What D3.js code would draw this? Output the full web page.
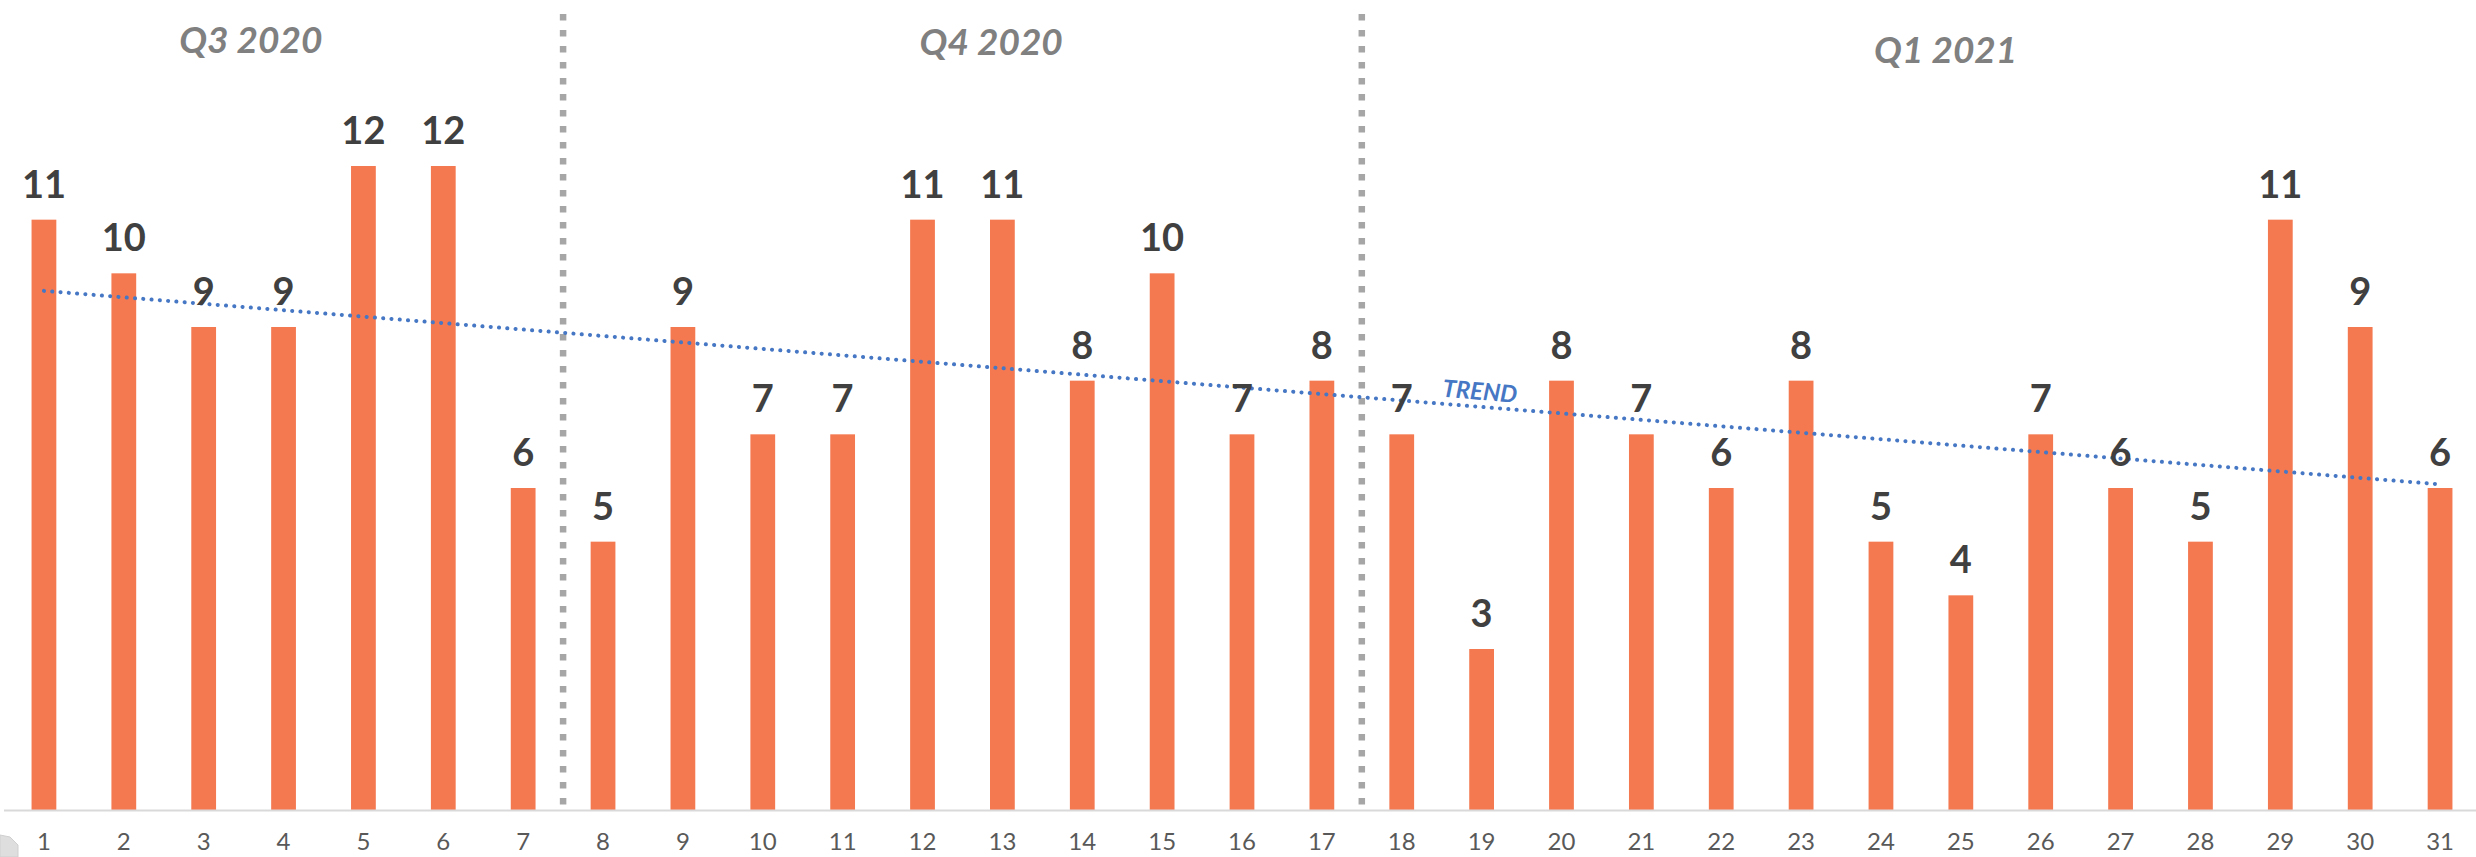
<!DOCTYPE html>
<html>
<head>
<meta charset="utf-8">
<script src="https://cdn.jsdelivr.net/npm/d3@7"></script>
<style>
  html, body { margin: 0; padding: 0; background: #ffffff; }
  svg { display: block; }
</style>
</head>
<body>
<svg id="chart" width="2476" height="857"></svg>
<script>
// ---- data ----
const days = ["1","2","3","4","5","6","7","8","9","10","11","12","13","14","15","16",
              "17","18","19","20","21","22","23","24","25","26","27","28","29","30","31"];
const counts = [11,10,9,9,12,12,6,5,9,7,7,11,11,8,10,7,8,7,3,8,7,6,8,5,4,7,6,5,11,9,6];
const quarterLabels = ["Q3 2020", "Q4 2020", "Q1 2021"];
const quarterBreaks = ["7", "17"];        // separator drawn after these days
const quarterLabelDay = [3.59, 12.86, 24.81]; // label centre, in day units
const trendLabel = "TREND";

// ---- layout ----
const W = 2476, H = 857;
const svg = d3.select("#chart");
svg.append("rect").attr("width", W).attr("height", H).attr("fill", "#ffffff");

const x = d3.scaleBand().domain(days).range([4, 2480]).paddingInner(0.69).paddingOuter(0.345);
const y = d3.scaleLinear().domain([0, 15]).range([810, 5]);
const dayPos = d3.scaleLinear().domain([1, days.length])
  .range([x(days[0]) + x.bandwidth() / 2, x(days[days.length - 1]) + x.bandwidth() / 2]);

// bars
svg.append("g").selectAll("rect").data(counts).join("rect")
  .attr("x", (d, i) => x(days[i]))
  .attr("y", d => y(d))
  .attr("width", x.bandwidth())
  .attr("height", d => y(0) - y(d))
  .attr("fill", "#F47850");

// x axis
const xAxis = d3.axisBottom(x).tickSize(0).tickPadding(0);
const gx = svg.append("g").attr("transform", `translate(0,${y(0)})`).call(xAxis);
gx.select(".domain").attr("stroke", "#d9d9d9").attr("stroke-width", 2)
  .attr("d", `M4,0.5H${W}`);
gx.selectAll("text")
  .attr("y", 40).attr("dy", 0)
  .attr("font-family", "Lato, 'Open Sans', sans-serif")
  .attr("font-size", 24)
  .attr("fill", "#595959");

// quarter separators
const sepX = d => (x(d) + x.bandwidth() / 2) + x.step() / 2;
svg.append("g").selectAll("line").data(quarterBreaks).join("line")
  .attr("x1", sepX).attr("x2", sepX)
  .attr("y1", 14).attr("y2", 806)
  .attr("stroke", "#a6a6a6")
  .attr("stroke-width", 6.5)
  .attr("stroke-dasharray", "6.5 9.5");

// quarter labels
const qBase = [53, 55, 63];
svg.append("g").selectAll("text").data(quarterLabels).join("text")
  .attr("x", (d, i) => dayPos(quarterLabelDay[i]))
  .attr("y", (d, i) => qBase[i])
  .attr("text-anchor", "middle")
  .attr("font-family", "Lato, 'Open Sans', sans-serif")
  .attr("font-weight", 700)
  .attr("font-style", "italic")
  .attr("font-size", 37)
  .attr("fill", "#808080")
  .text(d => d);

// trend line (least squares on counts)
const n = counts.length;
const xs = counts.map((d, i) => i + 1);
const mx = d3.mean(xs), my = d3.mean(counts);
const slope = d3.sum(xs, (v, i) => (v - mx) * (counts[i] - my)) / d3.sum(xs, v => (v - mx) * (v - mx));
const icpt = my - slope * mx;
const trend = [1, n].map(v => [dayPos(v), y(icpt + slope * v)]);
svg.append("path")
  .attr("d", d3.line()(trend))
  .attr("fill", "none")
  .attr("stroke", "#4677C4")
  .attr("stroke-width", 4)
  .attr("stroke-linecap", "round")
  .attr("stroke-dasharray", "0.1 8.2");

// trend label
const tDay = 18.97;
const tx = dayPos(tDay), ty = y(icpt + slope * tDay);
const ang = Math.atan2(trend[1][1] - trend[0][1], trend[1][0] - trend[0][0]) * 180 / Math.PI;
svg.append("text")
  .attr("transform", `translate(${tx},${ty - 7}) rotate(${ang})`)
  .attr("text-anchor", "middle")
  .attr("font-family", "Lato, 'Open Sans', sans-serif")
  .attr("font-weight", 700)
  .attr("font-style", "italic")
  .attr("font-size", 24)
  .attr("fill", "#4677C4")
  .text(trendLabel);

// value labels
svg.append("g").selectAll("text").data(counts).join("text")
  .attr("x", (d, i) => x(days[i]) + x.bandwidth() / 2)
  .attr("y", d => y(d) - 22)
  .attr("text-anchor", "middle")
  .attr("font-family", "Lato, 'Open Sans', sans-serif")
  .attr("font-weight", 700)
  .attr("font-size", 38)
  .attr("fill", "#404040")
  .text(d => d);

// small grey corner shape at bottom-left
svg.append("polygon")
  .attr("points", "0,835 10,837 18,845 18,857 0,857")
  .attr("fill", "#dedede")
  .attr("stroke", "#cfcfcf")
  .attr("stroke-width", 1);
</script>
</body>
</html>
